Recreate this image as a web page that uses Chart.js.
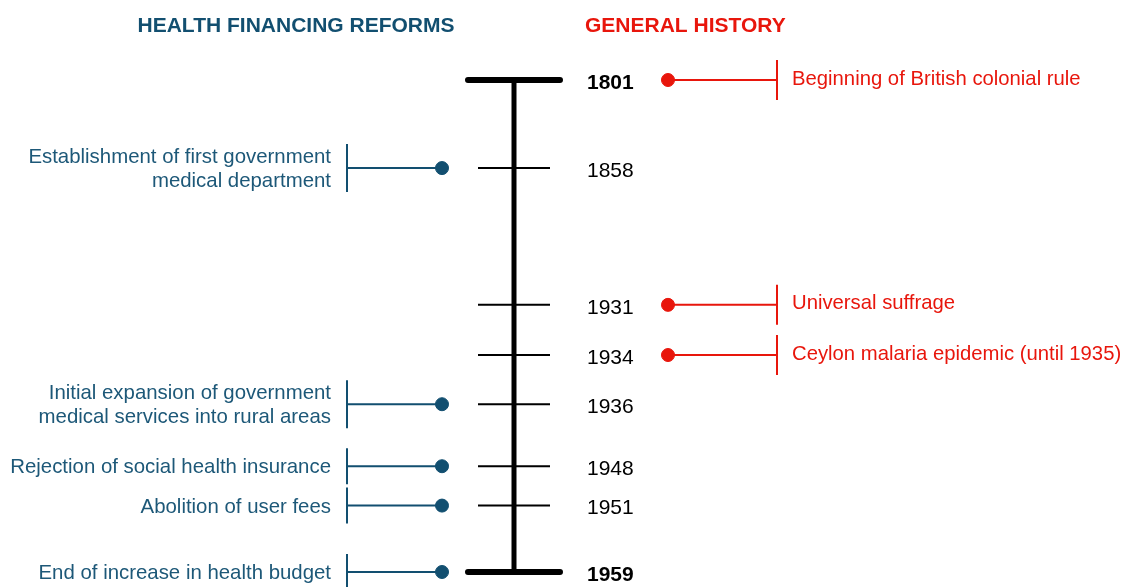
<!DOCTYPE html>
<html>
<head>
<meta charset="utf-8">
<script src="https://cdn.jsdelivr.net/npm/chart.js@4.4.1/dist/chart.umd.min.js"></script>
<style>
  html, body { margin: 0; padding: 0; background: #ffffff; }
  #wrap { width: 1123px; height: 587px; position: relative; }
</style>
</head>
<body>
<div id="wrap"><canvas id="c" width="1123" height="587"></canvas></div>
<script>
// ---- Data ----
const timelineYears = [1801, 1858, 1931, 1934, 1936, 1948, 1951, 1959];
// position of each year along the (non-linear) timeline, 1801 = 0 ... 1959 = 10
const timelinePos   = [0, 1.79, 4.57, 5.59, 6.59, 7.85, 8.65, 10];
const boldYears     = [1801, 1959];

const reformYears  = [1858, 1936, 1948, 1951, 1959];
const reformLabels = [
  ["Establishment of first government", "medical department"],
  ["Initial expansion of government", "medical services into rural areas"],
  ["Rejection of social health insurance"],
  ["Abolition of user fees"],
  ["End of increase in health budget"]
];

const historyYears  = [1801, 1931, 1934];
const historyLabels = [
  "Beginning of British colonial rule",
  "Universal suffrage",
  "Ceylon malaria epidemic (until 1935)"
];

const headerLeft  = "HEALTH FINANCING REFORMS";
const headerRight = "GENERAL HISTORY";

// ---- Styles / layout ----
const BLUE = "#124f70";
const BLUE_TEXT = "#1d5878";
const RED = "#e8160c";
const FONT = "'Liberation Sans', Arial, sans-serif";
const L = { // horizontal layout (x-scale units)
  spine: 514, capL: 468, capR: 560, tickL: 478, tickR: 550,
  yearX: 587,
  blueDot: 442, blueBar: 347, blueText: 331,
  redDot: 668, redBar: 777, redText: 792
};

const posOf = y => timelinePos[timelineYears.indexOf(y)];

function segments(list) { // list of [x1,y1,x2,y2] -> points with null gaps
  const out = [];
  list.forEach(s => { out.push({x:s[0], y:s[1]}, {x:s[2], y:s[3]}, {x:s[2], y:null}); });
  return out;
}

const firstY = timelineYears[0], lastY = timelineYears[timelineYears.length - 1];
const innerYears = timelineYears.filter(y => y !== firstY && y !== lastY);

const datasets = [
  { // spine
    data: segments([[L.spine, posOf(firstY), L.spine, posOf(lastY)]]),
    borderColor: "#000", borderWidth: 5, pointRadius: 0, showLine: true, spanGaps: false
  },
  { // end caps
    data: segments([firstY, lastY].map(y => [L.capL, posOf(y), L.capR, posOf(y)])),
    borderColor: "#000", borderWidth: 6, borderCapStyle: "round", pointRadius: 0, showLine: true, spanGaps: false
  },
  { // inner ticks
    data: segments(innerYears.map(y => [L.tickL, posOf(y), L.tickR, posOf(y)])),
    borderColor: "#000", borderWidth: 2, pointRadius: 0, showLine: true, spanGaps: false
  },
  { // reform connectors
    data: segments(reformYears.map(y => [L.blueBar, posOf(y), L.blueDot, posOf(y)])),
    borderColor: BLUE, borderWidth: 2, pointRadius: 0, showLine: true, spanGaps: false
  },
  { // reform dots
    data: reformYears.map(y => ({x: L.blueDot, y: posOf(y)})),
    backgroundColor: BLUE, borderColor: BLUE, pointRadius: 6.5, showLine: false
  },
  { // history connectors
    data: segments(historyYears.map(y => [L.redDot, posOf(y), L.redBar, posOf(y)])),
    borderColor: RED, borderWidth: 2, pointRadius: 0, showLine: true, spanGaps: false
  },
  { // history dots
    data: historyYears.map(y => ({x: L.redDot, y: posOf(y)})),
    backgroundColor: RED, borderColor: RED, pointRadius: 6.5, showLine: false
  }
];

const textPlugin = {
  id: "timelineText",
  afterDatasetsDraw(chart) {
    const ctx = chart.ctx, xs = chart.scales.x, ys = chart.scales.y;
    ctx.save();
    // headers
    ctx.font = "bold 21px " + FONT;
    ctx.textBaseline = "middle";
    ctx.fillStyle = BLUE;
    ctx.textAlign = "center";
    ctx.fillText(headerLeft, 296, 26);
    ctx.fillStyle = RED;
    ctx.textAlign = "left";
    ctx.fillText(headerRight, 585, 26);

    // year labels
    ctx.fillStyle = "#000";
    timelineYears.forEach((yr, i) => {
      const py = ys.getPixelForValue(timelinePos[i]);
      ctx.font = (boldYears.includes(yr) ? "bold " : "") + "21px " + FONT;
      ctx.fillText(String(yr), xs.getPixelForValue(L.yearX), py + 3);
    });

    // reform labels + bars
    const lh = 24;
    reformYears.forEach((yr, i) => {
      const py = ys.getPixelForValue(posOf(yr));
      const lines = reformLabels[i];
      const half = lines.length > 1 ? 24 : 18;
      ctx.strokeStyle = BLUE; ctx.lineWidth = 2;
      ctx.beginPath();
      const bx = xs.getPixelForValue(L.blueBar);
      ctx.moveTo(bx, py - half); ctx.lineTo(bx, py + half); ctx.stroke();
      ctx.fillStyle = BLUE_TEXT;
      ctx.font = "20.4px " + FONT;
      ctx.textAlign = "right";
      const top = py + 1.5 - (lines.length - 1) * lh / 2;
      lines.forEach((t, j) => ctx.fillText(t, xs.getPixelForValue(L.blueText), top + j * lh));
    });

    // history labels + bars
    historyYears.forEach((yr, i) => {
      const py = ys.getPixelForValue(posOf(yr));
      ctx.strokeStyle = RED; ctx.lineWidth = 2;
      const bx = xs.getPixelForValue(L.redBar);
      ctx.beginPath(); ctx.moveTo(bx, py - 20); ctx.lineTo(bx, py + 20); ctx.stroke();
      ctx.fillStyle = RED;
      ctx.font = "20.3px " + FONT;
      ctx.textAlign = "left";
      ctx.fillText(historyLabels[i], xs.getPixelForValue(L.redText), py - 1);
    });
    ctx.restore();
  }
};

const unit = 49.2; // px per timeline unit
new Chart(document.getElementById("c"), {
  type: "scatter",
  data: { datasets },
  options: {
    responsive: false,
    animation: false,
    layout: { padding: 0, autoPadding: false },
    plugins: { legend: { display: false }, tooltip: { enabled: false } },
    scales: {
      x: { type: "linear", display: false, min: 0, max: 1123 },
      y: { type: "linear", display: false, reverse: true, min: -80 / unit, max: 10 + 15 / unit }
    }
  },
  plugins: [textPlugin]
});
</script>
</body>
</html>
